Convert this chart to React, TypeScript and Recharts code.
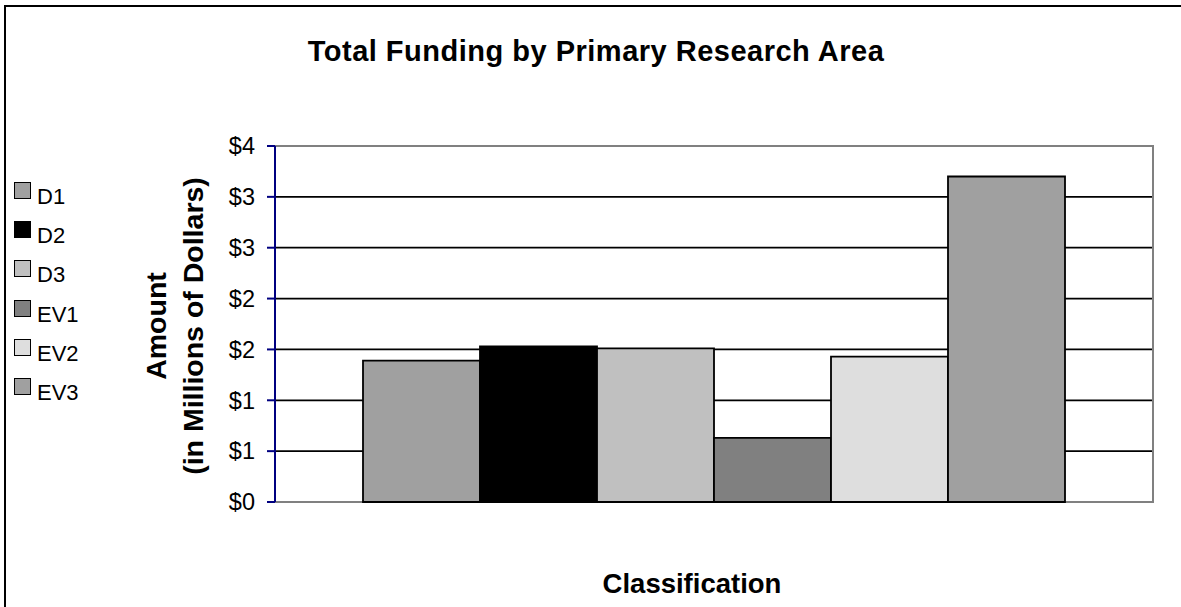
import React from "react";
import { BarChart, Bar, XAxis, YAxis, CartesianGrid, Legend, ReferenceArea } from "recharts";

const SERIES = ["D1", "D2", "D3", "EV1", "EV2", "EV3"];
const AMOUNTS = [1.39, 1.53, 1.51, 0.63, 1.43, 3.2];
const FILLS = ["#a0a0a0", "#000000", "#c0c0c0", "#808080", "#dedede", "#a0a0a0"];
const Y_TICKS = [0, 0.5, 1, 1.5, 2, 2.5, 3, 3.5];

const FONT = "'Liberation Sans', Arial, sans-serif";

const row: Record<string, string | number> = { name: "Classification" };
SERIES.forEach((s, i) => {
  row[s] = AMOUNTS[i];
});
const data = [row];

// Excel-style whole-dollar labels (0.5 rounds up)
const dollars = (v: number) => "$" + Math.round(v);

function LegendBox({ payload }: any) {
  return (
    <div style={{ fontFamily: FONT, fontSize: 22, color: "#000" }}>
      {(payload || []).map((entry: any) => (
        <div key={entry.value} style={{ position: "relative", height: 39.2 }}>
          <div
            style={{
              position: "absolute",
              left: 14,
              top: 0,
              width: 15,
              height: 15,
              background: entry.color,
              border: "1px solid #000",
            }}
          />
          <div style={{ position: "absolute", left: 37, top: 4, lineHeight: 1, whiteSpace: "nowrap" }}>
            {entry.value}
          </div>
        </div>
      ))}
    </div>
  );
}

function AxisTitle({ viewBox }: any) {
  const x = viewBox.x;
  const cy = 326;
  return (
    <g fontFamily={FONT} fontWeight="bold" fontSize={28.5} fill="#000" textAnchor="middle">
      <text x={x + 166} y={cy} transform={`rotate(-90, ${x + 166}, ${cy})`}>
        Amount
      </text>
      <text x={x + 203} y={cy} transform={`rotate(-90, ${x + 203}, ${cy})`}>
        (in Millions of Dollars)
      </text>
    </g>
  );
}

export default function App() {
  return (
    <div
      style={{
        position: "absolute",
        left: 0,
        top: 0,
        width: 1181,
        height: 607,
        overflow: "hidden",
        background: "#fff",
      }}
    >
      <div
        style={{
          position: "absolute",
          left: 4,
          top: 5,
          width: 1220,
          height: 640,
          border: "2px solid #000",
        }}
      />
      <div
        style={{
          position: "absolute",
          left: 596,
          top: 37,
          transform: "translateX(-50%)",
          fontFamily: FONT,
          fontWeight: "bold",
          fontSize: 29,
          letterSpacing: 0.5,
          lineHeight: 1,
          whiteSpace: "nowrap",
        }}
      >
        Total Funding by Primary Research Area
      </div>
      <div
        style={{
          position: "absolute",
          left: 692,
          top: 570,
          transform: "translateX(-50%)",
          fontFamily: FONT,
          fontWeight: "bold",
          fontSize: 27.5,
          lineHeight: 1,
          whiteSpace: "nowrap",
        }}
      >
        Classification
      </div>
      <div style={{ position: "absolute", left: 0, top: 0 }}>
        <BarChart
          width={1181}
          height={607}
          data={data}
          margin={{ top: 146, right: 28, left: 0, bottom: 105 }}
          barGap={0}
          barCategoryGap={88}
        >
          <CartesianGrid vertical={false} stroke="#000" strokeWidth={1.8} />
          <ReferenceArea y1={0} y2={3.5} fill="none" stroke="#808080" strokeWidth={2} />
          <XAxis dataKey="name" hide />
          <YAxis
            width={275}
            domain={[0, 3.5]}
            ticks={Y_TICKS}
            interval={0}
            tickFormatter={dollars}
            stroke="#000080"
            strokeWidth={2}
            tickSize={8}
            tickMargin={12}
            tick={{ fill: "#000", fontSize: 23.5, fontFamily: FONT }}
            label={<AxisTitle />}
          />
          <Legend
            layout="vertical"
            align="center"
            verticalAlign="middle"
            content={<LegendBox />}
            wrapperStyle={{ left: 0, top: 182, width: 120 }}
          />
          {SERIES.map((s, i) => (
            <Bar
              key={s}
              dataKey={s}
              fill={FILLS[i]}
              stroke="#000"
              strokeWidth={1.8}
              isAnimationActive={false}
            />
          ))}
        </BarChart>
      </div>
    </div>
  );
}
